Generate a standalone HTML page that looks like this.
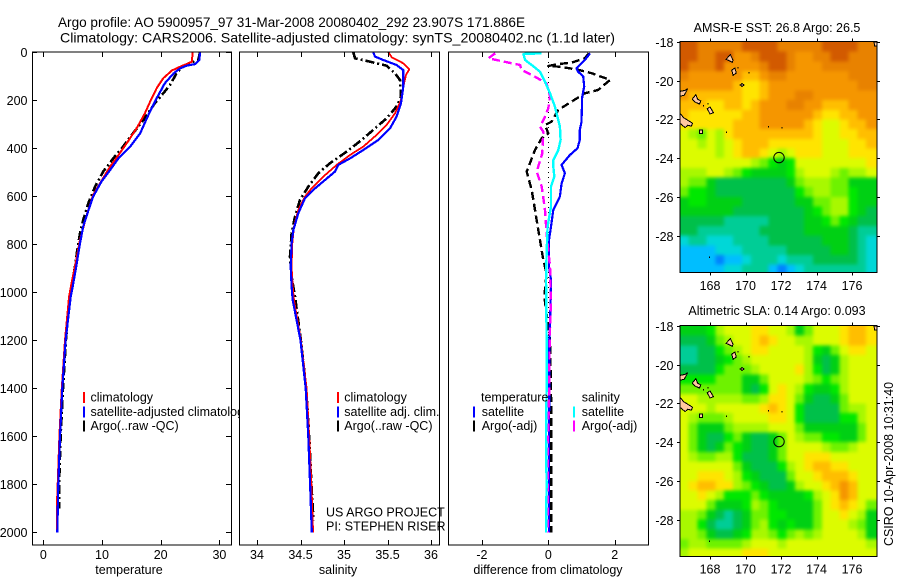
<!DOCTYPE html>
<html lang="en">
<head>
<meta charset="utf-8">
<title>Argo profile 5900957_97</title>
<style>
html,body{margin:0;padding:0;background:#fff;width:900px;height:580px;overflow:hidden}
svg{display:block}
text{font-family:"Liberation Sans",sans-serif;font-size:12.5px;fill:#000}
</style>
</head>
<body>
<svg id="fig" xmlns="http://www.w3.org/2000/svg" width="900" height="580" viewBox="0 0 900 580">
<defs>
<filter id="map-smooth" filterUnits="userSpaceOnUse" x="660" y="20" width="240" height="560" color-interpolation-filters="sRGB">
<feGaussianBlur stdDeviation="1.8"/>
<feComponentTransfer><feFuncA type="linear" slope="12"/></feComponentTransfer>
</filter>
</defs>
<rect x="0" y="0" width="900" height="580" fill="#fff"/>
<text x="58" y="27" style="font-size:14px" textLength="467" lengthAdjust="spacingAndGlyphs">Argo profile: AO 5900957_97 31-Mar-2008 20080402_292 23.907S 171.886E</text>
<text x="60" y="42.5" style="font-size:14px" textLength="555" lengthAdjust="spacingAndGlyphs">Climatology: CARS2006. Satellite-adjusted climatology: synTS_20080402.nc (1.1d later)</text>
<g id="layer"></g>
<text transform="translate(893,546) rotate(-90)" textLength="164" lengthAdjust="spacingAndGlyphs">CSIRO 10-Apr-2008 10:31:40</text>
</svg>
<script>
// ---------- Temperature panel data ----------
const tempClimDepth=[0,39,49,60,76,108,150,206,254,317,379,449,476,546,594,685,782,893,962,1018,1200,1400,1600,1800,1900,2000];
const tempClimValue=[25.45,25.3,24.4,23.3,21.9,20.45,19.3,18.2,17.3,15.9,14.2,12.2,11.4,9.66,8.5,7.3,6.25,5.4,4.8,4.4,3.7,3.15,2.75,2.45,2.3,2.3];
const tempSatDepth=[0,32,49,56,67,88,129,192,261,337,393,442,490,539,601,657,726,796,893,976,1018,1200,1400,1600,1800,2000];
const tempSatValue=[26.7,26.6,25.85,24.4,23.3,22.2,20.7,19.3,17.9,16.5,14.8,12.8,11.4,9.9,8.5,7.7,6.8,6.25,5.6,5.0,4.66,3.8,3.24,2.84,2.56,2.39];
const tempArgoDepth=[0,32,42,56,88,136,171,212,282,337,393,442,497,560,629,699,754,824,893,976,1032,1200,1400,1600,1800,1900];
const tempArgoValue=[26.7,26.4,25.3,23.9,22.7,21.6,20.45,19.0,17.05,15.3,13.6,11.9,10.2,8.8,7.67,6.8,6.25,5.8,5.4,4.83,4.43,3.85,3.35,2.95,2.7,2.75];
const tempTicks=[0,10,20,30];
const depthTicks=[0,200,400,600,800,1000,1200,1400,1600,1800,2000];

// ---------- Salinity panel data ----------
const salClimDepth=[0,21,46,71,94,143,199,254,303,344,393,428,469,518,567,601,657,726,796,893,976,1032,1200,1400,1600,1800,2000];
const salClimValue=[35.51,35.548,35.682,35.751,35.713,35.682,35.655,35.586,35.49,35.375,35.222,35.069,34.916,34.762,34.628,34.552,34.475,34.425,34.406,34.398,34.41,34.425,34.505,34.57,34.6,34.625,34.645];
const salSatDepth=[0,18,32,53,74,143,212,268,317,365,407,442,469,497,532,567,608,671,740,796,893,976,1032,1200,1400,1600,1800,2000];
const salSatValue=[35.337,35.356,35.452,35.605,35.682,35.682,35.655,35.605,35.529,35.395,35.222,35.069,34.935,34.897,34.782,34.667,34.552,34.475,34.418,34.398,34.387,34.398,34.41,34.5,34.56,34.59,34.61,34.63];
const salArgoDepth=[0,25,39,56,88,115,185,226,275,317,365,414,462,504,560,615,685,754,851,935,1018,1200,1400,1600,1800,1950];
const salArgoValue=[35.107,35.126,35.299,35.49,35.586,35.644,35.655,35.605,35.49,35.356,35.203,35.03,34.839,34.705,34.59,34.494,34.437,34.398,34.379,34.398,34.437,34.505,34.565,34.6,34.625,34.65];
const salTicks=[34,34.5,35,35.5,36];
const salTickLabels=["34","34.5","35","35.5","36"];

// ---------- Difference panel data ----------
const diffTempSatDepth=[4,32,67,81,101,143,185,289,324,365,400,428,469,504,546,601,657,726,782,893,949,1046,1200,1400,1600,1800,2000];
const diffTempSatValue=[1.26,1.10,.85,.90,1.05,1.08,1.02,1.0,.95,.95,.88,.65,.40,.50,.40,.35,.15,.08,.02,.02,.08,.07,.03,.03,.02,.02,.02];
const diffTempArgoDepth=[4,25,43,49,57,60,67,71,87,115,157,171,206,240,289,303,338,358,407,497,574,657,740,865,921,1018,1200,1400,1600,1800,2000];
const diffTempArgoValue=[1.22,1.1,.70,.30,0,.35,.65,.85,1.3,1.86,1.5,1.1,.7,.3,.1,-.1,0,-.2,-.4,-.65,-.5,-.4,-.3,-.15,-.05,-.12,.05,.08,.09,.09,.09];
const diffSalSatDepth=[4,7,32,53,81,122,171,226,310,365,407,449,476,518,560,643,726,838,949,1046,1200,1400,1600,1800,2000];
const diffSalSatValue=[-.2,-.75,-.7,-.5,-.25,-.1,.05,.2,.35,.37,.3,.15,.15,.18,.08,.08,-.02,-.05,-.07,-.06,-.05,-.05,-.07,-.05,-.07];
const diffSalArgoDepth=[4,25,43,53,74,94,129,185,233,275,310,331,421,497,560,657,754,893,1046,1200,1400,1600,1800,2000];
const diffSalArgoValue=[-1.6,-1.8,-1.2,-.85,-.8,-.5,-.05,.05,0,-.12,-.25,-.15,-.18,-.35,-.2,-.1,-.05,.05,.08,.04,.03,-.01,-.02,-.02];
const diffTicks=[-2,0,2];

// ---------- Map data (colour-scale level per 0.5 degree cell, north to south) ----------
const mapLonStart=166.3;
const mapLatStart=-18;
const mapCellDegrees=0.5;
const sstGrid=[
[14,14,13,13,13,13,13,14,14,14,14,13,13,13,13,13,14,14,14,14,13,13],
[14,14,13,13,14,14,12,12,13,14,14,14,13,12,12,13,13,14,14,13,13,13],
[14,13,13,13,14,12,12,12,12,13,14,14,13,12,12,12,13,13,13,13,13,13],
[13,12,12,12,12,12,12,11,11,12,13,13,12,12,12,12,12,12,12,13,13,13],
[12,12,12,12,12,12,11,10,10,11,12,12,12,12,12,12,12,12,12,12,13,13],
[12,11,11,11,11,11,11,10,10,11,12,12,12,13,13,12,12,12,12,12,12,12],
[11,11,11,10,10,11,11,10,11,12,12,12,13,13,12,12,11,11,11,12,12,12],
[11,10,10,10,10,10,10,11,11,12,12,12,12,12,12,11,10,10,11,11,12,12],
[10,10,10,10,10,10,11,11,11,12,12,12,12,12,11,10,9,9,10,11,11,12],
[9,8,7,9,8,10,11,11,11,11,11,11,11,11,11,10,9,9,10,10,11,11],
[9,9,8,9,8,9,10,11,11,11,10,10,10,10,10,10,9,9,9,10,10,11],
[9,9,9,9,8,9,10,11,11,10,9,8,9,10,10,10,9,9,9,10,10,10],
[9,9,9,9,9,9,9,9,8,7,6,5,6,9,9,9,9,9,9,9,9,10],
[8,8,8,9,9,8,7,6,5,5,5,5,6,8,9,9,9,8,7,8,8,9],
[8,7,7,5,4,4,4,4,4,4,4,4,5,7,8,8,8,7,7,5,5,5],
[7,6,6,5,4,4,4,4,4,4,4,4,4,6,7,8,8,7,7,6,5,5],
[5,6,6,5,5,5,5,4,4,4,4,4,4,5,5,7,7,8,8,6,5,5],
[5,5,5,5,5,5,4,4,4,4,4,4,4,4,5,6,7,8,8,6,5,4],
[4,4,4,4,4,3,3,3,3,3,4,4,4,4,5,5,6,7,6,5,4,4],
[4,4,3,3,3,3,3,3,3,4,4,4,4,4,5,5,5,5,5,4,3,3],
[2,3,3,2,2,2,3,3,3,3,4,4,4,4,4,4,5,5,5,4,3,2],
[1,1,1,1,2,2,2,3,3,3,3,3,4,4,4,4,4,5,5,4,3,2],
[1,1,1,1,0,1,1,2,3,3,3,2,3,3,3,4,4,4,4,4,3,2],
[1,1,1,1,1,2,2,3,3,3,1,0,1,2,3,3,3,3,3,3,3,2]
];
const slaGrid=[
[5,5,5,6,8,9,9,9,10,10,9,9,8,5,7,9,9,9,10,11,11,10],
[4,4,4,5,7,8,9,9,10,11,10,9,9,8,8,9,9,9,10,11,11,10],
[3,3,4,4,6,7,8,9,10,10,9,9,9,9,8,6,5,7,9,10,10,9],
[3,3,4,4,5,6,7,8,9,9,9,9,9,9,8,5,4,5,8,9,9,9],
[4,4,4,4,6,7,7,7,8,9,9,9,9,10,8,6,4,5,8,9,9,9],
[6,6,6,6,7,7,7,5,5,7,9,9,9,9,8,7,6,7,8,9,9,9],
[7,7,7,7,7,7,7,5,4,6,9,10,9,8,6,5,5,6,8,9,9,9],
[9,9,8,8,8,8,8,7,7,8,10,10,9,7,5,4,4,5,7,9,9,9],
[9,9,9,8,9,9,9,9,9,10,11,10,9,6,4,4,4,4,7,8,8,9],
[9,8,7,7,7,8,9,9,9,9,10,10,9,6,4,4,4,4,6,6,8,9],
[9,7,5,5,5,7,8,8,8,8,9,9,9,7,5,5,5,5,5,5,7,9],
[9,7,5,4,4,6,7,5,4,4,5,7,9,8,7,7,6,6,5,5,7,9],
[9,7,5,4,5,7,6,5,4,4,5,7,9,9,9,9,8,7,7,8,9,9],
[9,8,7,7,8,8,6,4,4,4,5,7,9,9,10,10,10,9,9,9,9,9],
[9,9,9,9,9,9,7,5,4,4,4,6,8,9,10,11,11,10,10,9,9,9],
[9,9,10,10,10,9,8,6,5,4,4,4,7,9,9,10,11,11,11,10,9,9],
[9,10,11,11,10,10,8,7,6,5,4,4,5,8,9,9,10,11,12,11,9,9],
[9,9,10,9,8,6,6,6,7,6,5,5,5,5,6,8,9,10,12,11,9,9],
[9,9,9,7,5,5,5,6,8,7,6,5,5,5,5,7,9,10,11,10,9,7],
[8,8,7,5,4,3,4,5,7,7,6,6,5,5,5,7,9,9,10,9,8,5],
[8,8,6,4,3,3,4,5,7,8,6,5,6,5,5,7,9,9,9,8,7,5],
[8,8,7,5,4,4,5,6,8,8,7,6,7,8,7,8,9,9,9,9,8,5],
[7,8,8,7,7,7,7,8,9,9,9,8,9,9,9,9,9,9,9,9,9,8],
[8,9,9,9,9,9,9,10,10,10,9,9,9,9,9,9,9,9,9,9,9,9]
];
const lonTicks=[168,170,172,174,176];
const latTicks=[-18,-20,-22,-24,-26,-28];
const floatLon=[171.89];
const floatLat=[-23.97];
const islandOutlines=[
[[168.9,-18.9],[169.15,-18.65],[169.3,-18.95],[169.25,-19.05],[169.05,-18.95]],
[[169.22,-19.45],[169.4,-19.35],[169.48,-19.6],[169.3,-19.72]],
[[169.7,-20.22],[169.8,-20.15],[169.92,-20.22],[169.8,-20.3]],
[[166.31,-20.55],[166.6,-20.5],[166.75,-20.4],[166.55,-20.75],[166.31,-20.8]],
[[167,-20.95],[167.2,-20.72],[167.3,-20.95],[167.48,-21.05],[167.4,-21.2],[167.15,-21.1]],
[[167.85,-21.45],[168,-21.35],[168.2,-21.65],[168,-21.72]],
[[166.31,-21.68],[166.5,-21.9],[166.85,-22.1],[167.02,-22.2],[166.95,-22.35],[166.75,-22.3],[166.6,-22.42],[166.31,-22.2]],
[[167.4,-22.54],[167.57,-22.54],[167.57,-22.72],[167.4,-22.72]],
[[177.24,-18],[177.4,-18],[177.4,-18.2],[177.28,-18.2]]
];
const islandDotLon=[169.55,170.16,167.6,167.85,168.9,171.28,172.02,167.95];
const islandDotLat=[-19.3,-19.56,-21.25,-21.15,-22.62,-22.35,-22.4,-29.07];

// ---------- Colour scale ----------
const levelColors=["#0082ff","#00beff","#00d7d7","#00cd96","#00c04a","#00d014","#00e800","#6ef200","#a8f800","#dcfc00","#ffe400","#ffbe00","#f59600","#e88200","#d25a00"];

const NS="http://www.w3.org/2000/svg";
const layer=document.getElementById('layer');
function mk(tag,attrs,parent,txt){
  const e=document.createElementNS(NS,tag);
  for(const k in attrs)e.setAttribute(k,attrs[k]);
  if(txt!==undefined)e.textContent=txt;
  (parent||layer).appendChild(e);
  return e;
}
function group(name){
  const g=mk('g',{});
  
  
  return g;
}
function depthY(d){return 52.3+0.24*d;}
function tempX(t){return 43.3+5.87*t;}
function salX(s){return 257+87*(s-34);}
function diffX(v){return 548.3+33.2*v;}
function lonX(lon){return 710+(lon-168)*17.75;}
function latY(top,lat){return top+(-18-lat)*19.36;}

function drawSeries(g,name,xf,depths,values,color,width,dash){
  const pts=depths.map((d,i)=>xf(values[i]).toFixed(1)+','+depthY(d).toFixed(1)).join(' ');
  const attrs={points:pts,fill:'none',stroke:color,'stroke-width':width,'shape-rendering':'crispEdges','stroke-linejoin':'round'};
  if(dash)attrs['stroke-dasharray']=dash;
  const p=mk('polyline',attrs,g);
  
  
}
function drawPanelFrame(g,name,L,R){
  const r=mk('rect',{x:L,y:52,width:R-L,height:493,fill:'none',stroke:'#000','stroke-width':1,'shape-rendering':'crispEdges'},g);
  
  
}
function tickLine(g,x1,y1,x2,y2){
  const l=mk('line',{x1,y1,x2,y2,stroke:'#000','stroke-width':1,'shape-rendering':'crispEdges'},g);
  
  
}
function label(g,name,x,y,txt,anchor){
  const t=mk('text',{x,y,'text-anchor':anchor||'start'},g,txt);
  
  
  return t;
}
function legendMark(g,x,y,color){
  const r=mk('rect',{x,y:y-9.5,width:2,height:11,fill:color,'shape-rendering':'crispEdges'},g);
  
  
}
function xAxis(g,ticks,labels,xf,title,titleX){
  ticks.forEach((t,i)=>{
    tickLine(g,Math.round(xf(t))+.5,52,Math.round(xf(t))+.5,57);
    tickLine(g,Math.round(xf(t))+.5,545,Math.round(xf(t))+.5,540);
    label(g,'x-tick-label',xf(t),559,labels[i],'middle');
  });
  label(g,'x-axis-title',titleX,574,title,'middle');
}
const LEG=[401.7,416,430];

// Temperature panel
const p1=group('temperature-panel');
mk('rect',{x:32,y:52,width:199,height:493,fill:'#fff'},p1);
drawSeries(p1,'temperature-argo-line',tempX,tempArgoDepth,tempArgoValue,'#000',2.6,'9 3 2 3');
drawSeries(p1,'temperature-climatology-line',tempX,tempClimDepth,tempClimValue,'#ff0000',2);
drawSeries(p1,'temperature-satellite-line',tempX,tempSatDepth,tempSatValue,'#0000ff',2.2);
drawPanelFrame(p1,'temperature-axes-frame',32.5,231.5);
depthTicks.forEach(d=>{
  const y=Math.round(depthY(d))+.5;
  tickLine(p1,32,y,37,y);
  tickLine(p1,231,y,226,y);
  label(p1,'depth-tick-label',27.5,y+4.5,String(d),'end');
});
xAxis(p1,tempTicks,tempTicks.map(String),tempX,'temperature',129);
legendMark(p1,83,LEG[0],'#ff0000');
legendMark(p1,83,LEG[1],'#0000ff');
legendMark(p1,83,LEG[2],'#000');
label(p1,'legend-climatology',90.5,LEG[0],'climatology');
label(p1,'legend-satellite-adjusted',90.5,LEG[1],'satellite-adjusted climatology');
label(p1,'legend-argo',90.5,LEG[2],'Argo(..raw -QC)');

// Salinity panel
const p2=group('salinity-panel');
mk('rect',{x:239.5,y:52,width:200,height:493,fill:'#fff'},p2);
drawSeries(p2,'salinity-argo-line',salX,salArgoDepth,salArgoValue,'#000',2.6,'9 3 2 3');
drawSeries(p2,'salinity-climatology-line',salX,salClimDepth,salClimValue,'#ff0000',1.8);
drawSeries(p2,'salinity-satellite-line',salX,salSatDepth,salSatValue,'#0000ff',2.2);
drawPanelFrame(p2,'salinity-axes-frame',239.5,439.5);
xAxis(p2,salTicks,salTickLabels,salX,'salinity',338);
legendMark(p2,337,LEG[0],'#ff0000');
legendMark(p2,337,LEG[1],'#0000ff');
legendMark(p2,337,LEG[2],'#000');
label(p2,'legend-climatology',344.3,LEG[0],'climatology');
label(p2,'legend-satellite-adjusted',344.3,LEG[1],'satellite adj. clim.');
label(p2,'legend-argo',344.3,LEG[2],'Argo(..raw -QC)');
label(p2,'project-label',326,516.7,'US ARGO PROJECT');
label(p2,'pi-label',326,530.7,'PI: STEPHEN RISER');

// Difference panel
const p3=group('difference-panel');
const zero=mk('line',{x1:diffX(0),y1:52,x2:diffX(0),y2:depthY(2000),stroke:'#000','stroke-width':1,'stroke-dasharray':'1 4','shape-rendering':'crispEdges'},p3);


drawSeries(p3,'difference-temperature-argo-line',diffX,diffTempArgoDepth,diffTempArgoValue,'#000',2.4,'8 4');
drawSeries(p3,'difference-temperature-satellite-line',diffX,diffTempSatDepth,diffTempSatValue,'#0000ff',2.2);
drawSeries(p3,'difference-salinity-argo-line',diffX,diffSalArgoDepth,diffSalArgoValue,'#ff00ff',2.4,'8 4');
drawSeries(p3,'difference-salinity-satellite-line',diffX,diffSalSatDepth,diffSalSatValue,'#00ffff',2.4);
drawPanelFrame(p3,'difference-axes-frame',448.5,648.5);
xAxis(p3,diffTicks,diffTicks.map(String),diffX,'difference from climatology',548);
label(p3,'legend-temperature-heading',481,LEG[0],'temperature');
legendMark(p3,473,LEG[1],'#0000ff');
legendMark(p3,473,LEG[2],'#000');
label(p3,'legend-temperature-satellite',481.7,LEG[1],'satellite');
label(p3,'legend-temperature-argo',481.7,LEG[2],'Argo(-adj)');
label(p3,'legend-salinity-heading',581.7,LEG[0],'salinity');
legendMark(p3,573,LEG[1],'#00ffff');
legendMark(p3,573,LEG[2],'#ff00ff');
label(p3,'legend-salinity-satellite',581.7,LEG[1],'satellite');
label(p3,'legend-salinity-argo',581.7,LEG[2],'Argo(-adj)');

// Maps
function drawMap(name,grid,top,bottom,title,titleY,labelY){
  const g=group(name);
  const clipId=name+'-clip';
  const defs=mk('defs',{},g);
  const cp=mk('clipPath',{id:clipId},defs);
  mk('rect',{x:680,y:top,width:196.5,height:bottom-top-.5},cp);
  const inner=mk('g',{'clip-path':'url(#'+clipId+')'},g);
  const cellLayer=mk('g',{filter:'url(#map-smooth)'},inner);
  const cw=mapCellDegrees;
  grid.forEach((row,r)=>{
    row.forEach((level,c)=>{
      const lon=mapLonStart+c*cw;
      const lat=mapLatStart-r*cw;
      const cell=mk('rect',{x:lonX(lon).toFixed(2),y:latY(top,lat).toFixed(2),width:(cw*17.75+.4).toFixed(2),height:(cw*19.36+.4).toFixed(2),fill:levelColors[level],'shape-rendering':'crispEdges'},cellLayer);
      
      
    });
  });
  islandOutlines.forEach(poly=>{
    const pts=poly.map(p=>lonX(p[0]).toFixed(1)+','+latY(top,p[1]).toFixed(1)).join(' ');
    const isl=mk('polygon',{points:pts,fill:'#ffc8a0',stroke:'#000','stroke-width':1,'shape-rendering':'crispEdges'},inner);
    
    
  });
  islandDotLon.forEach((lon,i)=>{
    const dot=mk('rect',{x:lonX(lon).toFixed(1),y:latY(top,islandDotLat[i]).toFixed(1),width:1,height:1.5,fill:'#000','shape-rendering':'crispEdges'},inner);
    
    
  });
  floatLon.forEach((lon,i)=>{
    const c=mk('circle',{cx:lonX(lon).toFixed(1),cy:latY(top,floatLat[i]).toFixed(1),r:5.2,fill:'none',stroke:'#000','stroke-width':1},inner);
    
    
  });
  const fr=mk('rect',{x:680,y:top-.5,width:197,height:bottom-top+.5,fill:'none',stroke:'#000','stroke-width':1,'shape-rendering':'crispEdges'},g);
  
  
  lonTicks.forEach(lon=>{
    const x=Math.round(lonX(lon))+.5;
    tickLine(g,x,top-.5,x,top-3.5);
    tickLine(g,x,bottom,x,bottom+3);
    label(g,'longitude-tick-label',lonX(lon),labelY,String(lon),'middle');
  });
  latTicks.forEach(lat=>{
    const y=Math.round(latY(top,lat))+.5;
    tickLine(g,680,y,677,y);
    tickLine(g,877,y,880,y);
    label(g,'latitude-tick-label',673.5,y+4.5,String(lat),'end');
  });
  const t=label(g,'map-title',777,titleY,title,'middle');
  return t;
}
drawMap('sst-map',sstGrid,42,272.5,'AMSR-E SST: 26.8  Argo: 26.5',32,290);
drawMap('sla-map',slaGrid,326,556.5,'Altimetric SLA: 0.14  Argo: 0.093',315,573.5);
</script>
</body>
</html>
